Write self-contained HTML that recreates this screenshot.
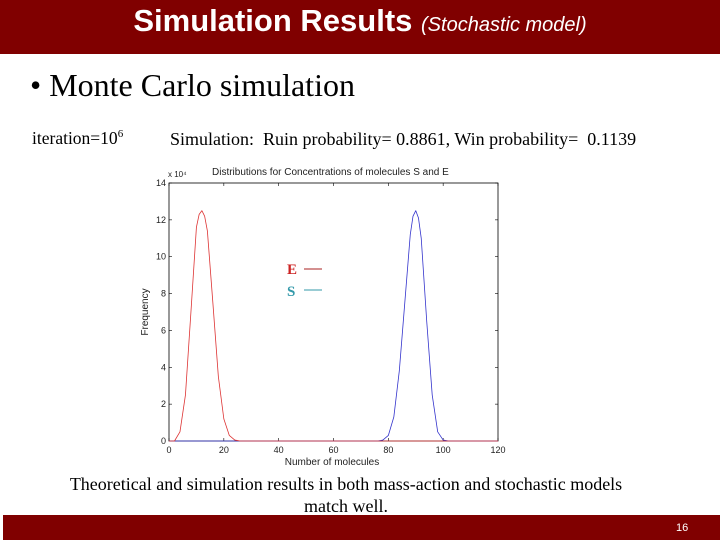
<!DOCTYPE html>
<html><head><meta charset="utf-8"><style>
body{margin:0;width:720px;height:540px;position:relative;background:#fff;overflow:hidden;font-family:"Liberation Serif",serif}
.abs{position:absolute;white-space:nowrap}
</style></head><body>
<div class="abs" style="left:0;top:0;width:720px;height:54px;background:#800000"></div>
<div class="abs" style="left:0;width:720px;top:2px;text-align:center;color:#fff;font-family:'Liberation Sans',sans-serif;font-size:31px;font-weight:bold;line-height:38px">Simulation Results <span style="font-size:20px;font-style:italic;font-weight:normal">(Stochastic model)</span></div>
<div class="abs" style="left:30px;top:65px;font-size:32px;line-height:40px">•&nbsp;Monte Carlo simulation</div>
<div class="abs" style="left:32px;top:128px;font-size:17.5px">iteration=10<sup style="font-size:11px">6</sup></div>
<div class="abs" style="left:170px;top:129px;font-size:18px">Simulation:&nbsp; Ruin probability= 0.8861, Win probability=&nbsp; 0.1139</div>
<svg class="abs" style="left:0;top:0" width="720" height="540" id="chart" font-family="Liberation Sans, sans-serif"></svg>
<div class="abs" style="left:0;width:692px;top:473px;text-align:center;font-size:18px;line-height:22px;white-space:normal">Theoretical and simulation results in both mass-action and stochastic models<br>match well.</div>
<div class="abs" style="left:3px;top:515px;width:717px;height:25px;background:#800000"></div>
<div class="abs" style="left:676px;top:522px;color:#fff;font-family:'Liberation Sans',sans-serif;font-size:11px">16</div>
<script>
const xTicks=[0,20,40,60,80,100,120];
const yTicks=[0,2,4,6,8,10,12,14];
const eX=[0,2,4,6,8,10,11,12,13,14,16,18,20,22,24,26,30,120];
const eY=[0,0,0.5,2.5,7,11.6,12.3,12.5,12.2,11.4,7.5,3.5,1.2,0.3,0.05,0,0,0];
const sX=[0,76,78,80,82,84,86,88,89,90,91,92,94,96,98,100,102,120];
const sY=[0,0,0.05,0.3,1.3,3.8,7.5,11.2,12.2,12.5,12.1,11,6.5,2.5,0.5,0.05,0,0];
const svg=document.getElementById('chart');const NS='http://www.w3.org/2000/svg';
const L=169,R=498,B=441,T=183;
const xs=v=>L+(v-0)/(120)*(R-L), ys=v=>B-v/14*(B-T);
function mk(t,a,p){const e=document.createElementNS(NS,t);for(const k in a)e.setAttribute(k,a[k]);(p||svg).appendChild(e);return e;}
const box=mk('rect',{x:L,y:T,width:R-L,height:B-T,fill:'#fff',stroke:'#000','stroke-width':0.8});


xTicks.forEach(v=>{const x=xs(v);
 mk('line',{x1:x,x2:x,y1:B,y2:B-3,stroke:'#000','stroke-width':0.6});mk('line',{x1:x,x2:x,y1:T,y2:T+3,stroke:'#000','stroke-width':0.6});
 const t=mk('text',{x:x,y:B+12,'font-size':9,'text-anchor':'middle',fill:'#222'});t.textContent=v;
 
 });
yTicks.forEach(v=>{const y=ys(v);
 mk('line',{x1:L,x2:L+3,y1:y,y2:y,stroke:'#000','stroke-width':0.6});mk('line',{x1:R,x2:R-3,y1:y,y2:y,stroke:'#000','stroke-width':0.6});
 const t=mk('text',{x:L-3,y:y+3,'font-size':9,'text-anchor':'end',fill:'#222'});t.textContent=v;
 
 });
function line(X,Y,c,n){const p=mk('polyline',{points:X.map((x,i)=>xs(x)+','+ys(Y[i])).join(' '),fill:'none',stroke:c,'stroke-width':0.8,'stroke-linejoin':'round'});
 
 }
line(sX,sY,'#3333cc','series-s');
line(eX,eY,'#dd3333','series-e');
let t;
t=mk('text',{x:212,y:175,'font-size':10,fill:'#222'});t.textContent='Distributions for Concentrations of molecules S and E';


t=mk('text',{x:168,y:177,'font-size':8,fill:'#222'});t.textContent='x 10\u2074';


t=mk('text',{x:332,y:465,'font-size':10,'text-anchor':'middle',fill:'#222'});t.textContent='Number of molecules';


t=mk('text',{x:148,y:312,'font-size':10,'text-anchor':'middle',fill:'#222',transform:'rotate(-90 148 312)'});t.textContent='Frequency';


const lg=mk('g',{});


t=mk('text',{x:287,y:274,'font-size':15,'font-weight':'bold',fill:'#cc2222','font-family':'Liberation Serif, serif'},lg);t.textContent='E';
mk('line',{x1:304,x2:322,y1:269,y2:269,stroke:'#aa2222','stroke-width':1},lg);
t=mk('text',{x:287,y:296,'font-size':15,'font-weight':'bold',fill:'#3399aa','font-family':'Liberation Serif, serif'},lg);t.textContent='S';
mk('line',{x1:304,x2:322,y1:290,y2:290,stroke:'#3399aa','stroke-width':1},lg);
</script>
</body></html>
